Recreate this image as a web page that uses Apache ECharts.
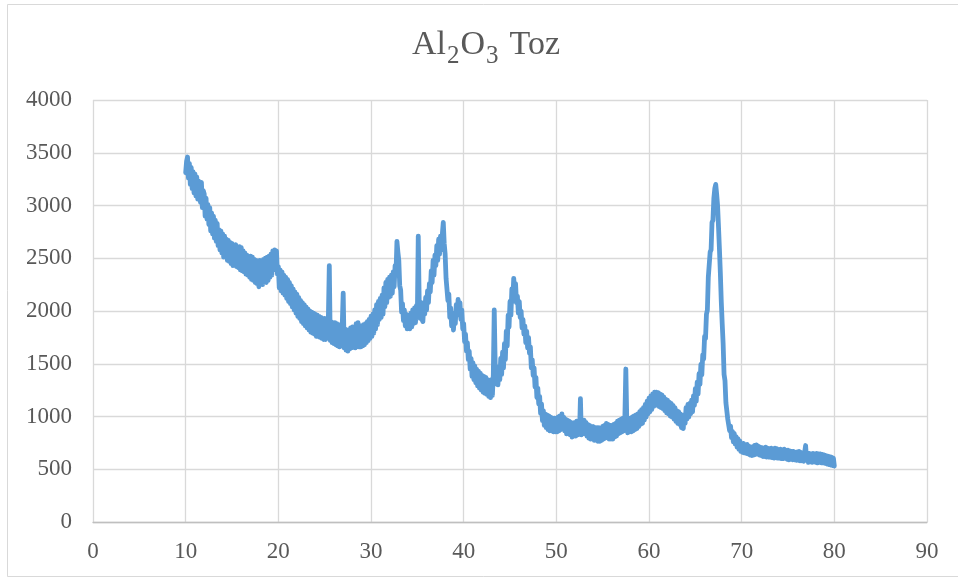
<!DOCTYPE html>
<html>
<head>
<meta charset="utf-8">
<title>Al2O3 Toz</title>
<script src="https://cdn.jsdelivr.net/npm/echarts@6/dist/echarts.min.js"></script>
<style>
  html, body { margin: 0; padding: 0; background: #ffffff; }
  #chart { width: 958px; height: 578px; }
</style>
</head>
<body>
<div id="chart"></div>
<script>
// XRD scan of Al2O3 powder: 2θ from 10° to 80°, one reading every 0.1°
const angleStart = 10;
const angleStep = 0.1;

const intensity = [
  3310, 3420, 3460, 3260, 3400, 3200, 3360, 3160, 3320, 3120, // 10
  3300, 3090, 3270, 3060, 3230, 3120, 3030, 3220, 2980, 3140, // 11
  3110, 2900, 3070, 2870, 3010, 2820, 2980, 2760, 2930, 2730, // 12
  2900, 2690, 2860, 2660, 2830, 2620, 2770, 2580, 2760, 2550, // 13
  2730, 2510, 2710, 2530, 2680, 2480, 2670, 2470, 2650, 2450, // 14
  2640, 2430, 2620, 2440, 2630, 2420, 2600, 2410, 2610, 2390, // 15
  2600, 2380, 2570, 2370, 2550, 2350, 2530, 2340, 2510, 2320, // 16
  2520, 2300, 2510, 2290, 2490, 2270, 2480, 2260, 2460, 2230, // 17
  2480, 2260, 2460, 2250, 2490, 2280, 2500, 2270, 2510, 2290, // 18
  2520, 2320, 2540, 2340, 2570, 2390, 2580, 2440, 2570, 2350, // 19
  2420, 2220, 2390, 2190, 2370, 2170, 2340, 2150, 2320, 2120, // 20
  2300, 2090, 2270, 2070, 2240, 2040, 2210, 2010, 2180, 1980, // 21
  2160, 1950, 2130, 1930, 2100, 1900, 2080, 1880, 2060, 1860, // 22
  2040, 1840, 2020, 1820, 2000, 1800, 1990, 1790, 1980, 1780, // 23
  1970, 1760, 1960, 1760, 1950, 1750, 1940, 1740, 1930, 1730, // 24
  1930, 1730, 1920, 1760, 1930, 2430, 1720, 1900, 1700, 1890, // 25
  1690, 1890, 1680, 1880, 1670, 1870, 1660, 1860, 1670, 1870, // 26
  2170, 1650, 1830, 1630, 1820, 1620, 1810, 1640, 1840, 1650, // 27
  1850, 1660, 1840, 1650, 1880, 1670, 1890, 1660, 1850, 1660, // 28
  1860, 1670, 1870, 1680, 1880, 1700, 1900, 1720, 1920, 1740, // 29
  1950, 1760, 1970, 1790, 2010, 1830, 2060, 1870, 2090, 1920, // 30
  2120, 1940, 2150, 1970, 2220, 2040, 2270, 2080, 2300, 2130, // 31
  2320, 2140, 2340, 2170, 2370, 2230, 2430, 2370, 2660, 2560, // 32
  2480, 2240, 2200, 1990, 2070, 1910, 2010, 1860, 1970, 1830, // 33
  1820, 1960, 1830, 1980, 1850, 2010, 1880, 2030, 1890, 2050, // 34
  1940, 2710, 2100, 1930, 2080, 1920, 1900, 2080, 1970, 2130, // 35
  2010, 2190, 2080, 2260, 2180, 2380, 2270, 2480, 2340, 2530, // 36
  2430, 2620, 2480, 2680, 2540, 2710, 2580, 2730, 2840, 2640, // 37
  2540, 2310, 2310, 2100, 2160, 1940, 2030, 1860, 1950, 1820, // 38
  1980, 1880, 2060, 1960, 2110, 2000, 2080, 1920, 2010, 1830, // 39
  1880, 1710, 1780, 1620, 1700, 1540, 1620, 1450, 1550, 1380, // 40
  1510, 1350, 1480, 1320, 1450, 1290, 1430, 1270, 1410, 1250, // 41
  1390, 1230, 1380, 1220, 1370, 1210, 1350, 1190, 1320, 1180, // 42
  1350, 1200, 1400, 2010, 1500, 1310, 1460, 1300, 1470, 1350, // 43
  1550, 1400, 1610, 1460, 1690, 1540, 1810, 1670, 1960, 1850, // 44
  2090, 1960, 2210, 2090, 2310, 2200, 2260, 2080, 2140, 1980, // 45
  2090, 1940, 2000, 1840, 1920, 1780, 1860, 1700, 1810, 1650, // 46
  1750, 1600, 1660, 1460, 1540, 1390, 1460, 1280, 1370, 1180, // 47
  1270, 1120, 1190, 1030, 1120, 960, 1055, 915, 1025, 895,    // 48
  1015, 875, 1005, 865, 995, 865, 985, 855, 985, 855,         // 49
  985, 855, 995, 865, 1005, 875, 1025, 885, 995, 865,         // 50
  975, 835, 965, 835, 955, 825, 945, 805, 935, 815,           // 51
  945, 815, 955, 825, 945, 835, 1170, 825, 955, 845,          // 52
  965, 835, 945, 815, 925, 795, 915, 785, 905, 785,           // 53
  905, 775, 895, 775, 895, 765, 895, 765, 885, 775,           // 54
  905, 785, 915, 795, 935, 805, 925, 785, 915, 785,           // 55
  915, 785, 925, 805, 935, 815, 955, 835, 965, 845,           // 56
  975, 855, 985, 865, 1005, 1450, 975, 845, 975, 855,         // 57
  985, 855, 995, 865, 1005, 875, 1015, 885, 1025, 905,        // 58
  1045, 925, 1065, 935, 1085, 965, 1115, 995, 1145, 1025,     // 59
  1175, 1045, 1195, 1065, 1215, 1095, 1230, 1105, 1230, 1105, // 60
  1225, 1095, 1215, 1085, 1205, 1075, 1185, 1055, 1165, 1035, // 61
  1155, 1025, 1135, 1005, 1125, 995, 1105, 975, 1085, 955,    // 62
  1055, 935, 1045, 925, 1025, 895, 1005, 885, 1015, 935,      // 63
  1085, 975, 1115, 995, 1125, 1025, 1155, 1045, 1195, 1105,   // 64
  1265, 1145, 1325, 1215, 1405, 1305, 1495, 1395, 1585, 1545, // 65
  1760, 1740, 1970, 2010, 2320, 2320, 2560, 2580, 2840, 2860, // 66
  3070, 3160, 3200, 3110, 3000, 2800, 2590, 2360, 2090, 1880, // 67
  1690, 1400, 1340, 1130, 1130, 975, 990, 865, 910, 800,      // 68
  860, 760, 840, 740, 810, 710, 790, 690, 770, 670,           // 69
  740, 660, 745, 655, 730, 650, 735, 645, 720, 635,           // 70
  710, 630, 715, 635, 725, 640, 730, 645, 720, 635,           // 71
  710, 630, 705, 620, 700, 620, 710, 615, 700, 615,           // 72
  695, 615, 700, 610, 690, 605, 700, 610, 695, 605,           // 73
  685, 605, 690, 600, 680, 600, 690, 605, 680, 595,           // 74
  680, 590, 675, 595, 670, 590, 670, 590, 660, 585,           // 75
  665, 585, 670, 580, 660, 580, 655, 575, 660, 725,           // 76
  590, 655, 565, 650, 570, 645, 565, 650, 570, 645,           // 77
  565, 650, 560, 645, 565, 645, 560, 640, 560, 635,           // 78
  555, 630, 550, 625, 545, 620, 540, 615, 535, 605,           // 79
  530                                                         // 80
];

const xTicks = { min: 0, max: 90, interval: 10 };
const yTicks = { min: 0, max: 4000, interval: 500 };

const points = intensity.map((v, i) => [+(angleStart + i * angleStep).toFixed(1), v]);

const serif = 'Liberation Serif, "Times New Roman", serif';
const textGray = '#595959';

const chart = echarts.init(document.getElementById('chart'), null, { renderer: 'canvas' });

chart.setOption({
  backgroundColor: '#ffffff',
  animation: false,
  title: {
    // chemical formula with lowered digits
    text: '{m|Al}{s|2}{m|O}{s|3}{gap| }{m|Toz}',
    left: 412,
    top: 28,
    padding: 0,
    textStyle: {
      fontFamily: serif,
      fontWeight: 'normal',
      color: textGray,
      rich: {
        m: {
          fontFamily: serif,
          fontSize: 34,
          color: textGray,
          lineHeight: 34,
          verticalAlign: 'top'
        },
        s: {
          fontFamily: serif,
          fontSize: 25,
          color: textGray,
          lineHeight: 25,
          verticalAlign: 'bottom',
          padding: [0, 1, 0, 1]
        },
        gap: {
          fontFamily: serif,
          fontSize: 40,
          lineHeight: 41,
          verticalAlign: 'top'
        }
      }
    }
  },
  graphic: [{
    type: 'rect',
    shape: { x: 7.5, y: 4.5, width: 960, height: 572 },
    style: { fill: 'none', stroke: '#d9d9d9', lineWidth: 1 },
    silent: true,
    z: -1
  }],
  grid: {
    left: 93,
    right: 31,
    top: 100,
    bottom: 56,
    containLabel: false
  },
  xAxis: {
    type: 'value',
    min: xTicks.min,
    max: xTicks.max,
    interval: xTicks.interval,
    axisLine: { show: true, lineStyle: { color: '#bfbfbf', width: 1.3 } },
    axisTick: { show: false },
    splitLine: { show: true, lineStyle: { color: '#d9d9d9', width: 1.3 } },
    axisLabel: {
      fontFamily: serif,
      fontSize: 23,
      color: textGray,
      margin: 18,
      formatter: v => String(v)
    }
  },
  yAxis: {
    type: 'value',
    min: yTicks.min,
    max: yTicks.max,
    interval: yTicks.interval,
    axisLine: { show: false },
    axisTick: { show: false },
    splitLine: { show: true, lineStyle: { color: '#d9d9d9', width: 1.3 } },
    axisLabel: {
      fontFamily: serif,
      fontSize: 23,
      color: textGray,
      margin: 21,
      formatter: v => String(v)
    }
  },
  series: [{
    name: 'Al2O3 Toz',
    type: 'line',
    data: points,
    showSymbol: false,
    smooth: false,
    sampling: null,
    lineStyle: {
      color: '#5b9bd5',
      width: 4.8,
      cap: 'round',
      join: 'round'
    },
    itemStyle: { color: '#5b9bd5' },
    z: 3
  }]
});
</script>
</body>
</html>
